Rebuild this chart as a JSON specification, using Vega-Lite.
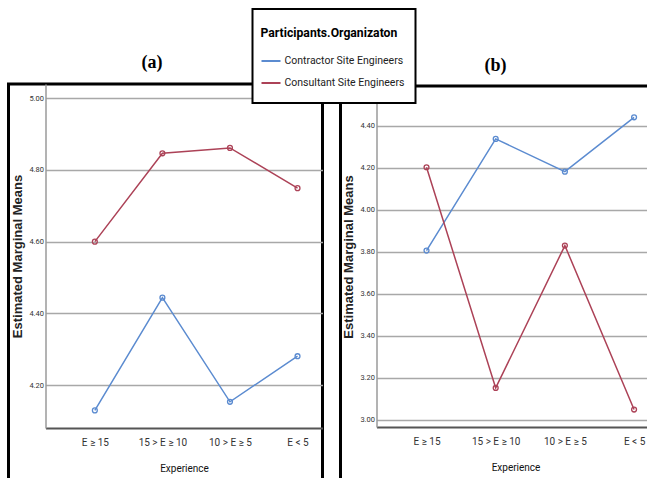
{
  "$schema": "https://vega.github.io/schema/vega-lite/v6.json",
  "background": "white",
  "padding": {"left": 6.5, "top": 8, "right": 0, "bottom": 0},
  "spacing": 14,
  "datasets": {
    "a": [
      {"exp": "E ≥ 15", "org": "Contractor Site Engineers", "mean": 4.130},
      {"exp": "15 > E ≥ 10", "org": "Contractor Site Engineers", "mean": 4.444},
      {"exp": "10 > E ≥ 5", "org": "Contractor Site Engineers", "mean": 4.154},
      {"exp": "E < 5", "org": "Contractor Site Engineers", "mean": 4.281},
      {"exp": "E ≥ 15", "org": "Consultant  Site Engineers", "mean": 4.600},
      {"exp": "15 > E ≥ 10", "org": "Consultant  Site Engineers", "mean": 4.846},
      {"exp": "10 > E ≥ 5", "org": "Consultant  Site Engineers", "mean": 4.861},
      {"exp": "E < 5", "org": "Consultant  Site Engineers", "mean": 4.749}
    ],
    "b": [
      {"exp": "E ≥ 15", "org": "Contractor Site Engineers", "mean": 3.805},
      {"exp": "15 > E ≥ 10", "org": "Contractor Site Engineers", "mean": 4.337},
      {"exp": "10 > E ≥ 5", "org": "Contractor Site Engineers", "mean": 4.181},
      {"exp": "E < 5", "org": "Contractor Site Engineers", "mean": 4.440},
      {"exp": "E ≥ 15", "org": "Consultant  Site Engineers", "mean": 4.202},
      {"exp": "15 > E ≥ 10", "org": "Consultant  Site Engineers", "mean": 3.151},
      {"exp": "10 > E ≥ 5", "org": "Consultant  Site Engineers", "mean": 3.829},
      {"exp": "E < 5", "org": "Consultant  Site Engineers", "mean": 3.048}
    ]
  },
  "hconcat": [
    {
      "title": {"text": "(a)", "dx": -13.5, "frame": "group", "offset": 12},
      "width": 314,
      "height": 400,
      "data": {"name": "a"},
      "encoding": {
        "x": {
          "field": "exp", "type": "ordinal",
          "sort": ["E ≥ 15", "15 > E ≥ 10", "10 > E ≥ 5", "E < 5"],
          "scale": {"type": "point", "range": [37, 314], "padding": 0.55, "align": 0.664},
          "axis": {"title": "Experience", "offset": -56}
        },
        "y": {
          "field": "mean", "type": "quantitative",
          "scale": {"domain": [4.081, 5.039], "range": [344, 0], "nice": false, "zero": false},
          "axis": {"title": "Estimated Marginal Means", "values": [4.2, 4.4, 4.6, 4.8, 5.0], "format": ".2f", "offset": -37}
        },
        "color": {
          "field": "org", "type": "nominal",
          "scale": {"domain": ["Contractor Site Engineers", "Consultant  Site Engineers"], "range": ["#5b8bd0", "#ac4257"]},
          "legend": {"orient": "none", "legendX": 244, "legendY": -75, "title": "Participants.Organizaton",
            "encode": {"legend": {"update": {"strokeWidth": {"value": 2}}}}}
        }
      },
      "layer": [
        {"mark": {"type": "line", "strokeWidth": 1.5}},
        {"mark": {"type": "point", "shape": "circle", "filled": false, "size": 24, "strokeWidth": 1.3, "opacity": 1}}
      ]
    },
    {
      "spacing": -1,
      "vconcat": [
        {
          "title": {"text": "(b)", "dx": -2, "frame": "group", "offset": 9},
          "width": 314,
          "height": 1,
          "view": {"stroke": null},
          "data": {"values": []},
          "mark": {"type": "point"}
        },
        {
          "width": 314,
          "height": 395,
          "data": {"name": "b"},
          "encoding": {
            "x": {
              "field": "exp", "type": "ordinal",
              "sort": ["E ≥ 15", "15 > E ≥ 10", "10 > E ≥ 5", "E < 5"],
              "scale": {"type": "point", "range": [36, 314], "padding": 0.509, "align": 0.71},
              "axis": {"title": "Experience", "offset": -54}
            },
            "y": {
              "field": "mean", "type": "quantitative",
              "scale": {"domain": [2.965, 4.589], "range": [341, 0], "nice": false, "zero": false},
              "axis": {"title": "Estimated Marginal Means", "values": [3.0, 3.2, 3.4, 3.6, 3.8, 4.0, 4.2, 4.4], "format": ".2f", "offset": -36}
            },
            "color": {
              "field": "org", "type": "nominal",
              "scale": {"domain": ["Contractor Site Engineers", "Consultant  Site Engineers"], "range": ["#5b8bd0", "#ac4257"]},
              "legend": {"orient": "none", "legendX": 244, "legendY": -75, "title": "Participants.Organizaton",
                "encode": {"legend": {"update": {"strokeWidth": {"value": 2}}}}}
            }
          },
          "layer": [
            {"mark": {"type": "line", "strokeWidth": 1.5}},
            {"mark": {"type": "point", "shape": "circle", "filled": false, "size": 24, "strokeWidth": 1.3, "opacity": 1}}
          ]
        }
      ]
    }
  ],
  "resolve": {"scale": {"x": "independent", "y": "independent"}},
  "config": {
    "font": "Roboto",
    "concat": {"spacing": 0},
    "view": {"stroke": "black", "strokeWidth": 3},
    "title": {"font": "Liberation Serif", "fontSize": 18, "fontWeight": "bold", "color": "black", "offset": 12},
    "axis": {"ticks": false, "tickSize": 0, "labelFont": "Roboto", "titleFont": "Roboto"},
    "axisY": {
      "labelFontSize": 7.5, "labelColor": "#333", "labelPadding": 2,
      "titleFont": "Liberation Sans", "titleFontSize": 13, "titleFontWeight": "bold", "titleColor": "#222", "titlePadding": 4,
      "domainColor": "#9a9a9a", "domainWidth": 1.5,
      "grid": true, "gridColor": "#a8a8a8", "gridWidth": 1.5
    },
    "axisX": {
      "labelFontSize": 10, "labelColor": "#333", "labelPadding": 9, "labelAngle": 0,
      "titleFontSize": 10, "titleFontWeight": "normal", "titleColor": "#111", "titlePadding": 16,
      "domainColor": "#555", "domainWidth": 2, "grid": false
    },
    "legend": {
      "fillColor": "white", "strokeColor": "black", "padding": 8,
      "titleFont": "Roboto", "titleFontSize": 12.2, "titleFontWeight": "bold", "titleColor": "black",
      "titleBaseline": "line-top", "titleLineHeight": 32, "titlePadding": 20.9,
      "labelFont": "Roboto", "labelFontSize": 10.5, "labelColor": "#222", "labelOffset": 3,
      "symbolType": "stroke", "symbolSize": 361, "symbolStrokeWidth": 2,
      "clipHeight": 22, "rowPadding": 0
    }
  }
}
